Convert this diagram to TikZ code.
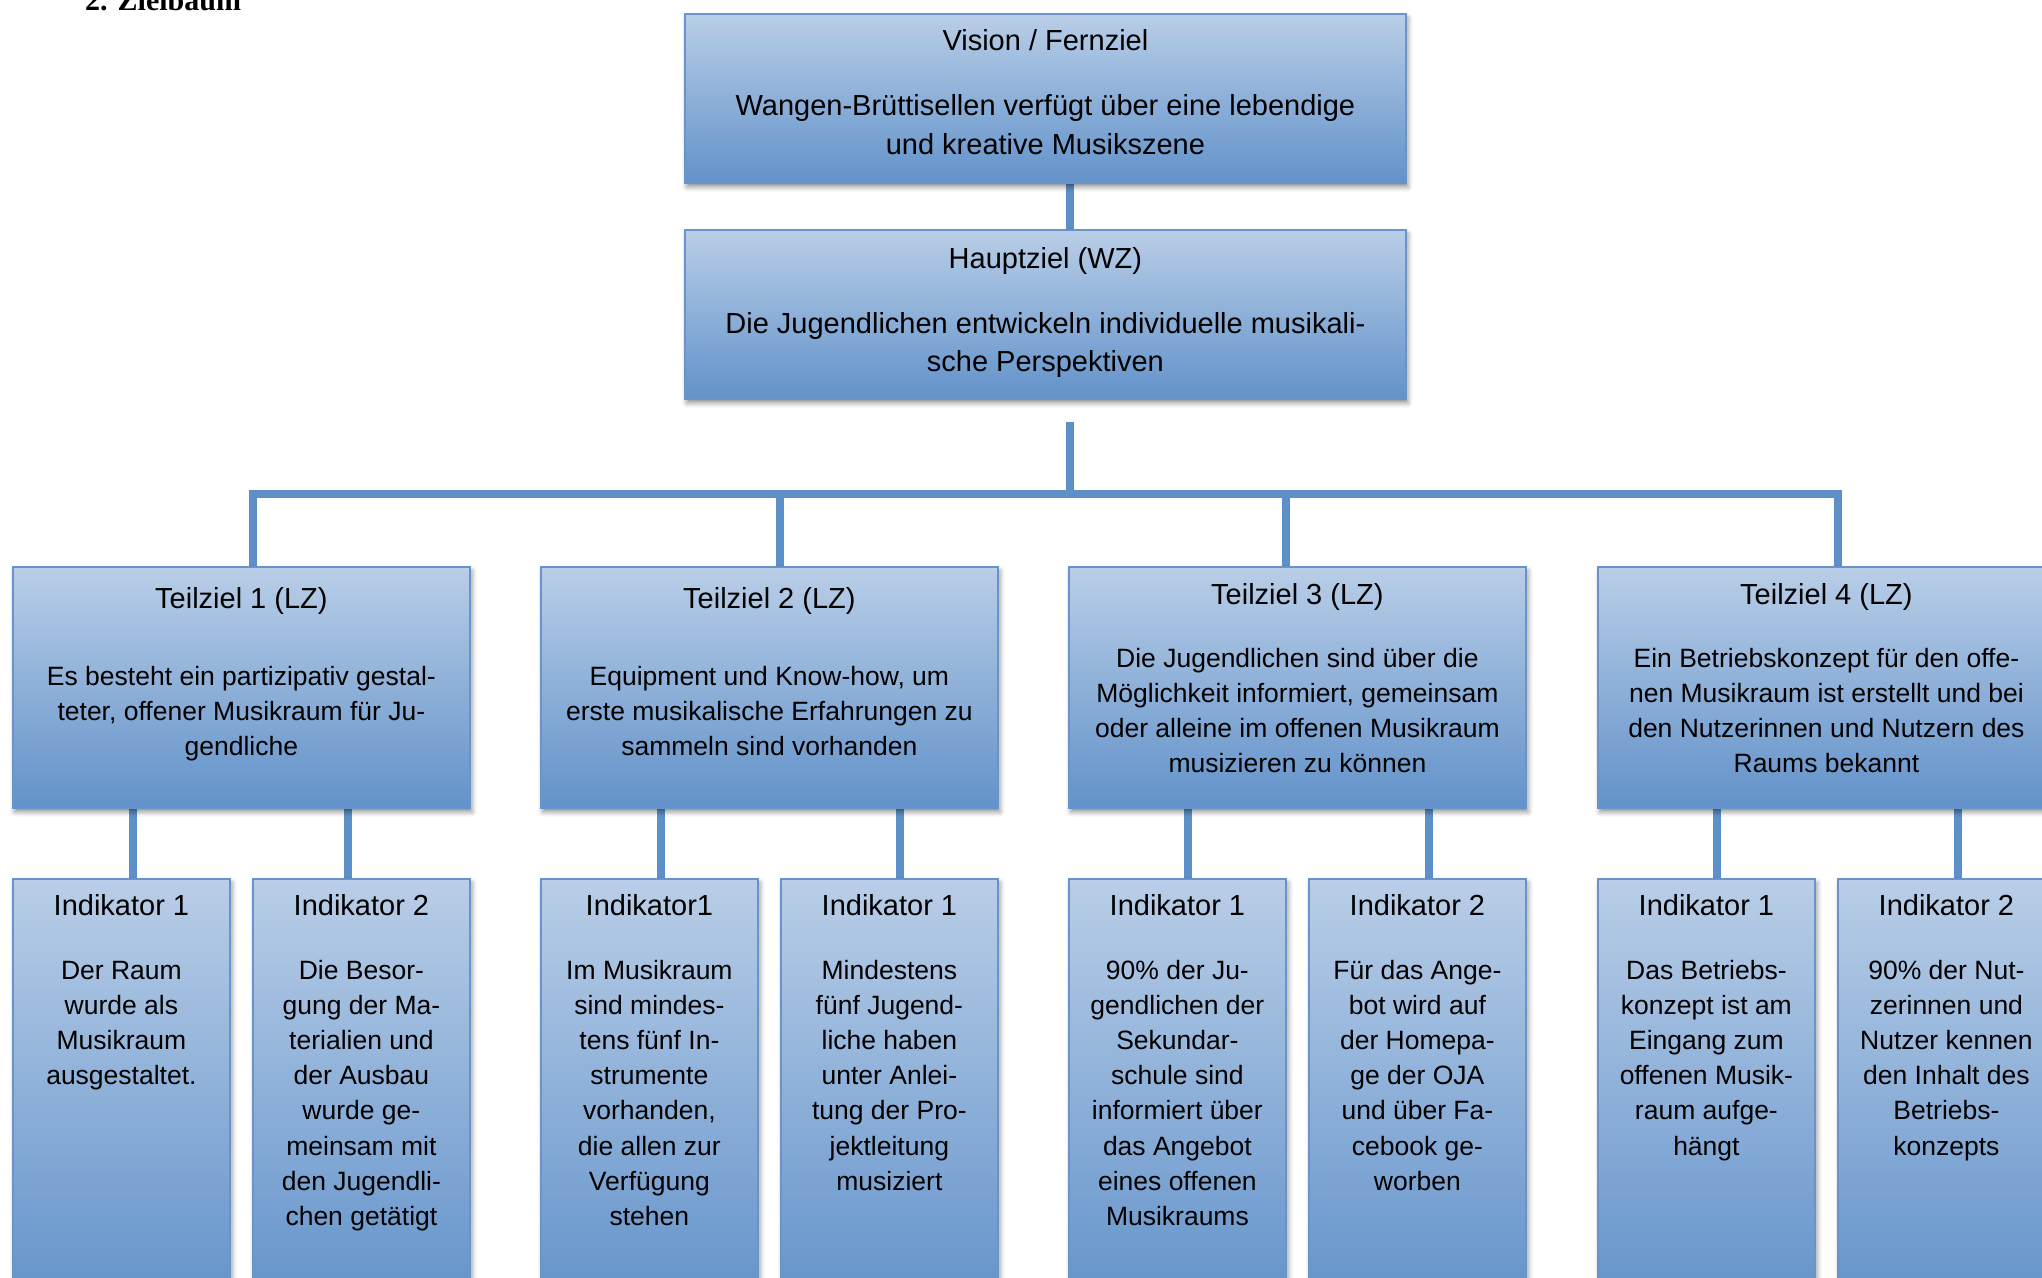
\documentclass[tikz,border=0pt]{standalone}
\usepackage{fontspec}
\setmainfont{Liberation Sans}
\newfontfamily\headfont{Liberation Serif}
\usetikzlibrary{shadows.blur}
\pgfdeclarelayer{bg}
\pgfsetlayers{bg,main}
\definecolor{boxtop}{RGB}{185,206,231}
\definecolor{boxbot}{RGB}{98,146,202}
\definecolor{boxline}{RGB}{104,148,202}
\definecolor{conncol}{RGB}{94,144,200}
\tikzset{
 goalbox/.style={draw=boxline, line width=1.8pt, top color=boxtop, bottom color=boxbot, rectangle, inner sep=0pt, anchor=north west,
   blur shadow={shadow xshift=2pt, shadow yshift=-4pt, shadow blur radius=5pt, shadow opacity=45}},
 bigbox/.style={goalbox, minimum width=721pt, minimum height=169pt},
 tzbox/.style={goalbox, minimum width=457pt, minimum height=241pt},
 indbox/.style={goalbox, minimum width=217pt, minimum height=430pt},
 ttl/.style={anchor=base, inner sep=0pt, align=center, font=\fontsize{29}{35}\selectfont},
 bigtxt/.style={anchor=base, inner sep=0pt, align=center, font=\fontsize{29}{38.5}\selectfont},
 smalltxt/.style={anchor=base, inner sep=0pt, align=center, font=\fontsize{26.5}{35.2}\selectfont},
 conn/.style={draw=conncol, line width=7.5pt, line cap=rect},
}
\begin{document}
\begin{tikzpicture}[x=1pt,y=-1pt]
\useasboundingbox (0,0) rectangle (2042,1277);

\node[anchor=base west, inner sep=0pt, font=\headfont\bfseries\fontsize{30}{30}\selectfont] (head) at (85,10) {2. Zielbaum};

% top boxes (base anchor = baseline of the last line)
\node[bigbox] (vis) at (684,13) {};
\node[bigbox] (hz) at (684,229) {};
\node[ttl] (vist) at ([yshift=-37pt]vis.north) {Vision / Fernziel};
\node[bigtxt] (visb) at ([yshift=-141pt]vis.north) {Wangen-Brüttisellen verfügt über eine lebendige\\und kreative Musikszene};
\node[ttl] (hzt) at ([yshift=-39pt]hz.north) {Hauptziel (WZ)};
\node[bigtxt] (hzb) at ([yshift=-142.5pt]hz.north) {Die Jugendlichen entwickeln individuelle musikali-\\sche Perspektiven};

% Teilziele
\node[tzbox] (tz1) at (12,566) {};
\node[tzbox] (tz2) at (540,566) {};
\node[tzbox] (tz3) at (1068,566) {};
\node[tzbox] (tz4) at (1597,566) {};
\node[ttl] (tz1t) at ([yshift=-42pt]tz1.north) {Teilziel 1 (LZ)};
\node[smalltxt] (tz1b) at ([yshift=-189.4pt]tz1.north) {Es besteht ein partizipativ gestal-\\teter, offener Musikraum für Ju-\\gendliche};
\node[ttl] (tz2t) at ([yshift=-42pt]tz2.north) {Teilziel 2 (LZ)};
\node[smalltxt] (tz2b) at ([yshift=-189.4pt]tz2.north) {Equipment und Know-how, um\\erste musikalische Erfahrungen zu\\sammeln sind vorhanden};
\node[ttl] (tz3t) at ([yshift=-38pt]tz3.north) {Teilziel 3 (LZ)};
\node[smalltxt] (tz3b) at ([yshift=-206.6pt]tz3.north) {Die Jugendlichen sind über die\\Möglichkeit informiert, gemeinsam\\oder alleine im offenen Musikraum\\musizieren zu können};
\node[ttl] (tz4t) at ([yshift=-38pt]tz4.north) {Teilziel 4 (LZ)};
\node[smalltxt] (tz4b) at ([yshift=-206.6pt]tz4.north) {Ein Betriebskonzept für den offe-\\nen Musikraum ist erstellt und bei\\den Nutzerinnen und Nutzern des\\Raums bekannt};

% Indikatoren
\node[indbox] (i1) at (12,878) {};
\node[indbox] (i2) at (252,878) {};
\node[indbox] (i3) at (540,878) {};
\node[indbox] (i4) at (780,878) {};
\node[indbox] (i5) at (1068,878) {};
\node[indbox] (i6) at (1308,878) {};
\node[indbox] (i7) at (1597,878) {};
\node[indbox] (i8) at (1837,878) {};

\node[ttl] (i1t) at ([yshift=-37pt]i1.north) {Indikator 1};
\node[smalltxt] (i1b) at ([yshift=-206.6pt]i1.north) {Der Raum\\wurde als\\Musikraum\\ausgestaltet.};
\node[ttl] (i2t) at ([yshift=-37pt]i2.north) {Indikator 2};
\node[smalltxt] (i2b) at ([yshift=-347.4pt]i2.north) {Die Besor-\\gung der Ma-\\terialien und\\der Ausbau\\wurde ge-\\meinsam mit\\den Jugendli-\\chen getätigt};
\node[ttl] (i3t) at ([yshift=-37pt]i3.north) {Indikator1};
\node[smalltxt] (i3b) at ([yshift=-347.4pt]i3.north) {Im Musikraum\\sind mindes-\\tens fünf In-\\strumente\\vorhanden,\\die allen zur\\Verfügung\\stehen};
\node[ttl] (i4t) at ([yshift=-37pt]i4.north) {Indikator 1};
\node[smalltxt] (i4b) at ([yshift=-312.2pt]i4.north) {Mindestens\\fünf Jugend-\\liche haben\\unter Anlei-\\tung der Pro-\\jektleitung\\musiziert};
\node[ttl] (i5t) at ([yshift=-37pt]i5.north) {Indikator 1};
\node[smalltxt] (i5b) at ([yshift=-347.4pt]i5.north) {90\% der Ju-\\gendlichen der\\Sekundar-\\schule sind\\informiert über\\das Angebot\\eines offenen\\Musikraums};
\node[ttl] (i6t) at ([yshift=-37pt]i6.north) {Indikator 2};
\node[smalltxt] (i6b) at ([yshift=-312.2pt]i6.north) {Für das Ange-\\bot wird auf\\der Homepa-\\ge der OJA\\und über Fa-\\cebook ge-\\worben};
\node[ttl] (i7t) at ([yshift=-37pt]i7.north) {Indikator 1};
\node[smalltxt] (i7b) at ([yshift=-277pt]i7.north) {Das Betriebs-\\konzept ist am\\Eingang zum\\offenen Musik-\\raum aufge-\\hängt};
\node[ttl] (i8t) at ([yshift=-37pt]i8.north) {Indikator 2};
\node[smalltxt] (i8b) at ([yshift=-277pt]i8.north) {90\% der Nut-\\zerinnen und\\Nutzer kennen\\den Inhalt des\\Betriebs-\\konzepts};

% connector coordinates
\coordinate (hub) at (1070,494);
\coordinate (hz0) at (1070,426);
\coordinate (d1) at (253,494);
\coordinate (d2) at (780,494);
\coordinate (d3) at (1286,494);
\coordinate (d4) at (1838,494);
\coordinate (c1) at (133,0);
\coordinate (c2) at (348,0);
\coordinate (c3) at (661,0);
\coordinate (c4) at (900,0);
\coordinate (c5) at (1188,0);
\coordinate (c6) at (1429,0);
\coordinate (c7) at (1717,0);
\coordinate (c8) at (1958,0);

\begin{pgfonlayer}{bg}
\draw[conn] (vis.south -| hub) -- (hz.north -| hub);
\draw[conn] (hz0) -- (hub);
\draw[conn] (d1) -- (d4);
\draw[conn] (d1) -- (d1 |- tz1.north);
\draw[conn] (d2) -- (d2 |- tz2.north);
\draw[conn] (d3) -- (d3 |- tz3.north);
\draw[conn] (d4) -- (d4 |- tz4.north);
\draw[conn] (tz1.south -| c1) -- (i1.north -| c1);
\draw[conn] (tz1.south -| c2) -- (i2.north -| c2);
\draw[conn] (tz2.south -| c3) -- (i3.north -| c3);
\draw[conn] (tz2.south -| c4) -- (i4.north -| c4);
\draw[conn] (tz3.south -| c5) -- (i5.north -| c5);
\draw[conn] (tz3.south -| c6) -- (i6.north -| c6);
\draw[conn] (tz4.south -| c7) -- (i7.north -| c7);
\draw[conn] (tz4.south -| c8) -- (i8.north -| c8);
\end{pgfonlayer}
\end{tikzpicture}
\end{document}
